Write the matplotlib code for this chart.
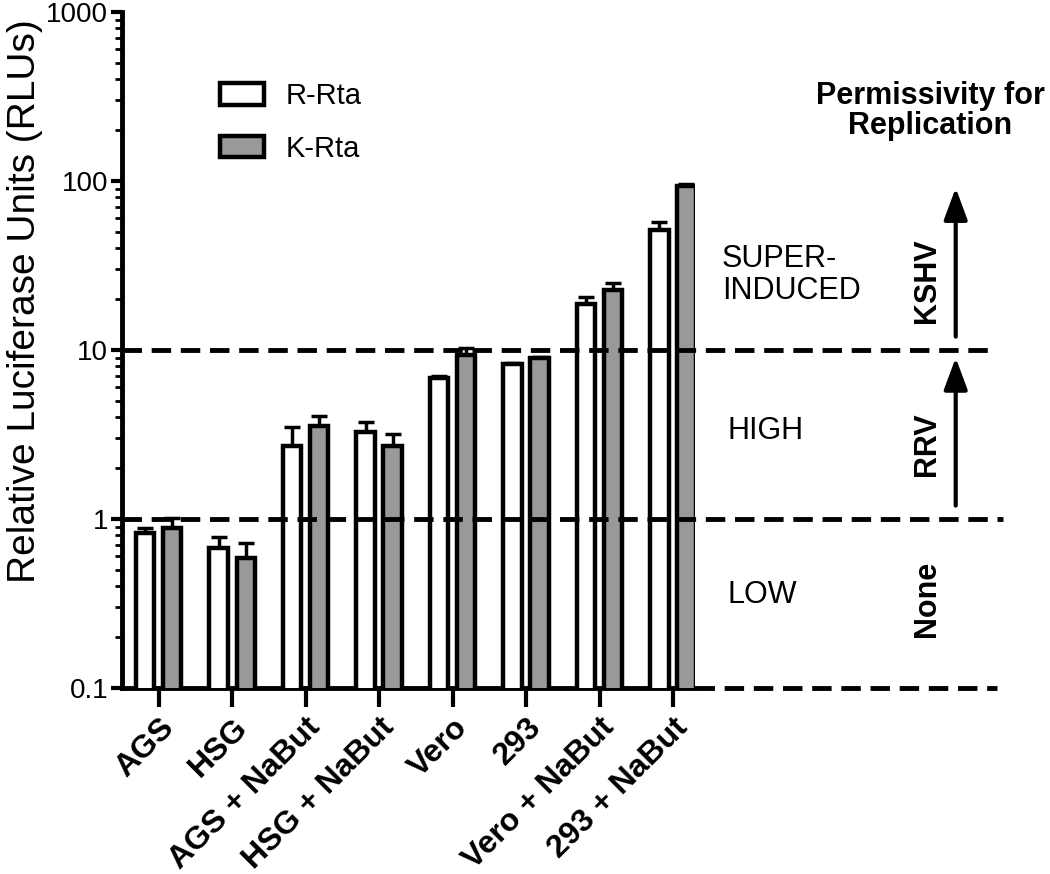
import matplotlib.pyplot as plt
import matplotlib.transforms as mtransforms
import numpy as np
from matplotlib.ticker import LogLocator, NullFormatter

plt.rcParams['font.family'] = ['Liberation Sans', 'DejaVu Sans']
plt.rcParams['lines.scale_dashes'] = False

# datos
cell_lines = ['AGS', 'HSG', 'AGS + NaBut', 'HSG + NaBut', 'Vero', '293',
              'Vero + NaBut', '293 + NaBut']
r_rta = [0.83, 0.67, 2.7, 3.25, 6.8, 8.3, 18.8, 51]
r_rta_err = [0.06, 0.11, 0.8, 0.5, 0.2, 0.1, 1.7, 6]
k_rta = [0.88, 0.59, 3.55, 2.7, 9.3, 9.0, 22.8, 94]
k_rta_err = [0.13, 0.13, 0.5, 0.5, 1.0, 0.15, 2.0, 2.0]

thresholds = [10, 1, 0.1]
yticks = [0.1, 1, 10, 100, 1000]
ytick_labels = ['0.1', '1', '10', '100', '1000']

fig = plt.figure(figsize=(10.5, 8.74), dpi=100)
ax = fig.add_axes([122 / 1050, 1 - 688 / 874, 573 / 1050, 676 / 874])

x = np.arange(len(cell_lines))
w = 0.25
off = 0.184

ax.bar(x - off, r_rta, w, color='white', edgecolor='black', linewidth=3.2,
       label='R-Rta', zorder=3)
ax.bar(x + off, k_rta, w, color='#999999', edgecolor='black', linewidth=3.2,
       label='K-Rta', zorder=3)
ax.errorbar(x - off, r_rta, yerr=[np.zeros(len(x)), r_rta_err], fmt='none',
            ecolor='black', elinewidth=2.5, capsize=6, capthick=2.5, zorder=2)
ax.errorbar(x + off, k_rta, yerr=[np.zeros(len(x)), k_rta_err], fmt='none',
            ecolor='black', elinewidth=2.5, capsize=6, capthick=2.5, zorder=2)

ax.set_yscale('log')
ax.set_ylim(0.1, 1000)
ax.set_xlim(-0.5, 7.30)

ax.set_yticks(yticks)
ax.set_yticklabels(ytick_labels, fontsize=20)
ax.yaxis.set_minor_locator(LogLocator(base=10, subs=np.arange(2, 10)))
ax.yaxis.set_minor_formatter(NullFormatter())

ax.set_xticks(x)
ax.set_xticklabels(cell_lines, rotation=45, ha='right', va='top',
                   rotation_mode='anchor', fontsize=23, fontweight='bold')
# subir un poco las etiquetas del eje x (en pixeles / dpi)
shift = mtransforms.ScaledTranslation(-6 / 100, 16 / 100, fig.dpi_scale_trans)
for lab in ax.get_xticklabels():
    lab.set_transform(lab.get_transform() + shift)

for s in ['top', 'right']:
    ax.spines[s].set_visible(False)
for s in ['left', 'bottom']:
    ax.spines[s].set_linewidth(3.5)
ax.tick_params(axis='y', which='major', length=8, width=3, direction='out',
               pad=2)
ax.tick_params(axis='y', which='minor', length=5, width=2, direction='out')
ax.tick_params(axis='x', which='major', length=14, width=3, direction='out')

fig.text(25 / 1050, 1 - 301 / 874, 'Relative Luciferase Units (RLUs)',
         rotation=90, ha='center', va='center', fontsize=28)

ax.legend(fontsize=21, frameon=False, loc='upper left', borderpad=0,
          borderaxespad=0, handlelength=1.5, handleheight=0.75,
          handletextpad=0.75, labelspacing=0.85,
          bbox_to_anchor=(220 / 1050, 1 - 82 / 874),
          bbox_transform=fig.transFigure)

# zona derecha: lineas punteadas, flechas y textos
trans = mtransforms.blended_transform_factory(ax.transAxes, ax.transData)
starts = [0, 0, 1.0]
ends = [1.515, 1.538, 1.527]
for thr, x0, x1 in zip(thresholds, starts, ends):
    ax.plot([x0, x1], [thr, thr], transform=trans, clip_on=False,
            color='black', lw=3.5, dashes=(14, 7), dash_capstyle='butt',
            zorder=4)

arrow_style = dict(arrowstyle='-|>,head_length=0.97,head_width=0.36',
                   lw=3, color='black', shrinkA=0, shrinkB=0,
                   mutation_scale=20)
ax.annotate('', xy=(1.455, 91), xytext=(1.455, 12), xycoords=trans,
            textcoords=trans, arrowprops=arrow_style, annotation_clip=False)
ax.annotate('', xy=(1.455, 9.0), xytext=(1.455, 1.2), xycoords=trans,
            textcoords=trans, arrowprops=arrow_style, annotation_clip=False)

ax.text(1.047, 27.8, 'SUPER-\nINDUCED', transform=trans, fontsize=22,
        ha='left', va='center', linespacing=1.1, clip_on=False)
ax.text(1.056, 3.32, 'HIGH', transform=trans, fontsize=22,
        ha='left', va='center', clip_on=False)
ax.text(1.056, 0.355, 'LOW', transform=trans, fontsize=22,
        ha='left', va='center', clip_on=False)

for label, yv in zip(['KSHV', 'RRV', 'None'], [25.6, 2.78, 0.336]):
    ax.text(1.405, yv, label, transform=trans, fontsize=22,
            fontweight='bold', rotation=90, ha='center', va='center',
            clip_on=False)

fig.text(930 / 1050, 1 - 111 / 874, 'Permissivity for\nReplication',
         ha='center', va='center', fontsize=22, fontweight='bold',
         linespacing=1.0)

fig.savefig('out.png', dpi=100)
